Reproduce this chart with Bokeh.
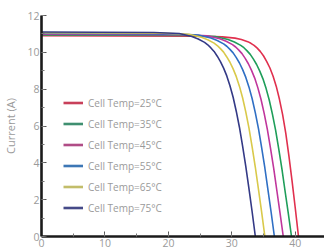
from bokeh.plotting import figure
from bokeh.models import Range1d, Legend, LegendItem, SingleIntervalTicker
from bokeh.embed import file_html
from bokeh.resources import INLINE

labels = ["Cell Temp=25\u00b0C", "Cell Temp=35\u00b0C", "Cell Temp=45\u00b0C",
          "Cell Temp=55\u00b0C", "Cell Temp=65\u00b0C", "Cell Temp=75\u00b0C"]
colors = ["#e0304e", "#1f9e5a", "#c0369c", "#2f6fc4", "#d9c94a", "#343a86"]
legend_colors = ["#c8405a", "#3f8f70", "#b04c86", "#3d77b5", "#c2bd6a", "#454a88"]

v25 = [0, 24.5, 28.5, 30.5, 31.5, 32.5, 33.0, 33.5, 34.0, 34.5, 35.0, 35.5, 36.0,
       36.5, 37.0, 37.5, 38.0, 38.5, 39.0, 39.5, 40.0, 40.5]
i25 = [10.9, 10.88, 10.84, 10.77, 10.7, 10.58, 10.49, 10.38, 10.23, 10.04, 9.80, 9.50,
       9.15, 8.70, 8.15, 7.45, 6.62, 5.60, 4.35, 2.98, 1.52, 0]
v35 = [0, 23.4, 27.4, 29.4, 30.4, 31.4, 31.9, 32.4, 32.9, 33.4, 33.9, 34.4, 34.9,
       35.4, 35.9, 36.4, 36.9, 37.4, 37.9, 38.4, 38.9, 39.4]
i35 = [10.94, 10.92, 10.86, 10.70, 10.56, 10.38, 10.25, 10.08, 9.89, 9.63, 9.34, 8.98,
       8.56, 8.03, 7.40, 6.63, 5.76, 4.73, 3.64, 2.43, 1.24, 0]
v45 = [0, 22.1, 26.1, 28.1, 29.1, 30.1, 30.6, 31.1, 31.6, 32.1, 32.6, 33.1, 33.6,
       34.1, 34.6, 35.1, 35.6, 36.1, 36.6, 37.1, 37.6, 38.1]
i45 = [10.98, 10.96, 10.90, 10.74, 10.60, 10.42, 10.29, 10.12, 9.93, 9.67, 9.38, 9.02,
       8.60, 8.07, 7.44, 6.67, 5.80, 4.77, 3.68, 2.47, 1.26, 0]
v55 = [0, 20.7, 24.7, 26.7, 27.7, 28.7, 29.2, 29.7, 30.2, 30.7, 31.2, 31.7, 32.2,
       32.7, 33.2, 33.7, 34.2, 34.7, 35.2, 35.7, 36.2, 36.7]
i55 = [11.02, 11.00, 10.94, 10.78, 10.64, 10.46, 10.33, 10.16, 9.97, 9.71, 9.42, 9.06,
       8.64, 8.11, 7.48, 6.71, 5.84, 4.81, 3.72, 2.51, 1.29, 0]
v65 = [0, 19.2, 23.2, 25.2, 26.2, 27.2, 27.7, 28.2, 28.7, 29.2, 29.7, 30.2, 30.7,
       31.2, 31.7, 32.2, 32.7, 33.2, 33.7, 34.2, 34.7, 35.2]
i65 = [11.06, 11.04, 10.98, 10.82, 10.68, 10.50, 10.37, 10.20, 10.01, 9.75, 9.46, 9.10,
       8.68, 8.15, 7.52, 6.75, 5.88, 4.85, 3.76, 2.55, 1.31, 0]
v75 = [0, 17.7, 21.7, 23.7, 24.7, 25.7, 26.2, 26.7, 27.2, 27.7, 28.2, 28.7, 29.2,
       29.7, 30.2, 30.7, 31.2, 31.7, 32.2, 32.7, 33.2, 33.7]
i75 = [11.10, 11.08, 11.02, 10.86, 10.72, 10.54, 10.41, 10.24, 10.05, 9.79, 9.50, 9.14,
       8.72, 8.19, 7.56, 6.79, 5.92, 4.89, 3.80, 2.59, 1.33, 0]

voltages = [v25, v35, v45, v55, v65, v75]
currents = [i25, i35, i45, i55, i65, i75]

p = figure(width=324, height=251, output_backend="svg", toolbar_location=None,
           x_range=Range1d(0, 44.6), y_range=Range1d(0, 12),
           min_border_left=41, min_border_right=0, min_border_top=15, min_border_bottom=15)
p.outline_line_color = None
p.grid.visible = False
p.background_fill_color = "white"
p.border_fill_color = "white"

for v, i, c in zip(voltages, currents, colors):
    p.line(v, i, line_color=c, line_width=1.6)

items = []
for lab, c, v, i in zip(labels, legend_colors, voltages, currents):
    r = p.line(v[:1], i[:1], line_color=c, line_width=2.6)
    items.append(LegendItem(label=lab, renderers=[r]))

legend = Legend(items=items, location=(22, 18), padding=0, margin=0, spacing=0,
                glyph_width=20, glyph_height=21, label_height=21, label_standoff=5,
                background_fill_alpha=0, border_line_color=None,
                label_text_font="Open Sans", label_text_font_size="10px",
                label_text_color="#9a9a9a")
p.add_layout(legend, "center")

p.xaxis.ticker = SingleIntervalTicker(interval=10, num_minor_ticks=2)
p.yaxis.ticker = SingleIntervalTicker(interval=2, num_minor_ticks=2)
for ax in (p.xaxis[0], p.yaxis[0]):
    ax.axis_line_width = 2.6
    ax.axis_line_color = "#1a1a1a"
    ax.major_tick_in = 5
    ax.major_tick_out = 0
    ax.minor_tick_in = 3
    ax.minor_tick_out = 0
    ax.major_tick_line_color = "#555555"
    ax.minor_tick_line_color = "#777777"
    ax.major_label_text_color = "#9a9a9a"
    ax.major_label_text_font = "Open Sans"
    ax.major_label_text_font_size = "10.5px"
    ax.major_label_standoff = 2
p.yaxis.axis_label = "Current (A)"
p.yaxis.axis_label_text_font = "Open Sans"
p.yaxis.axis_label_text_font_size = "11px"
p.yaxis.axis_label_text_font_style = "normal"
p.yaxis.axis_label_text_color = "#9a9a9a"
p.yaxis.axis_label_standoff = 6

open("out.html", "w").write(file_html(p, INLINE))
